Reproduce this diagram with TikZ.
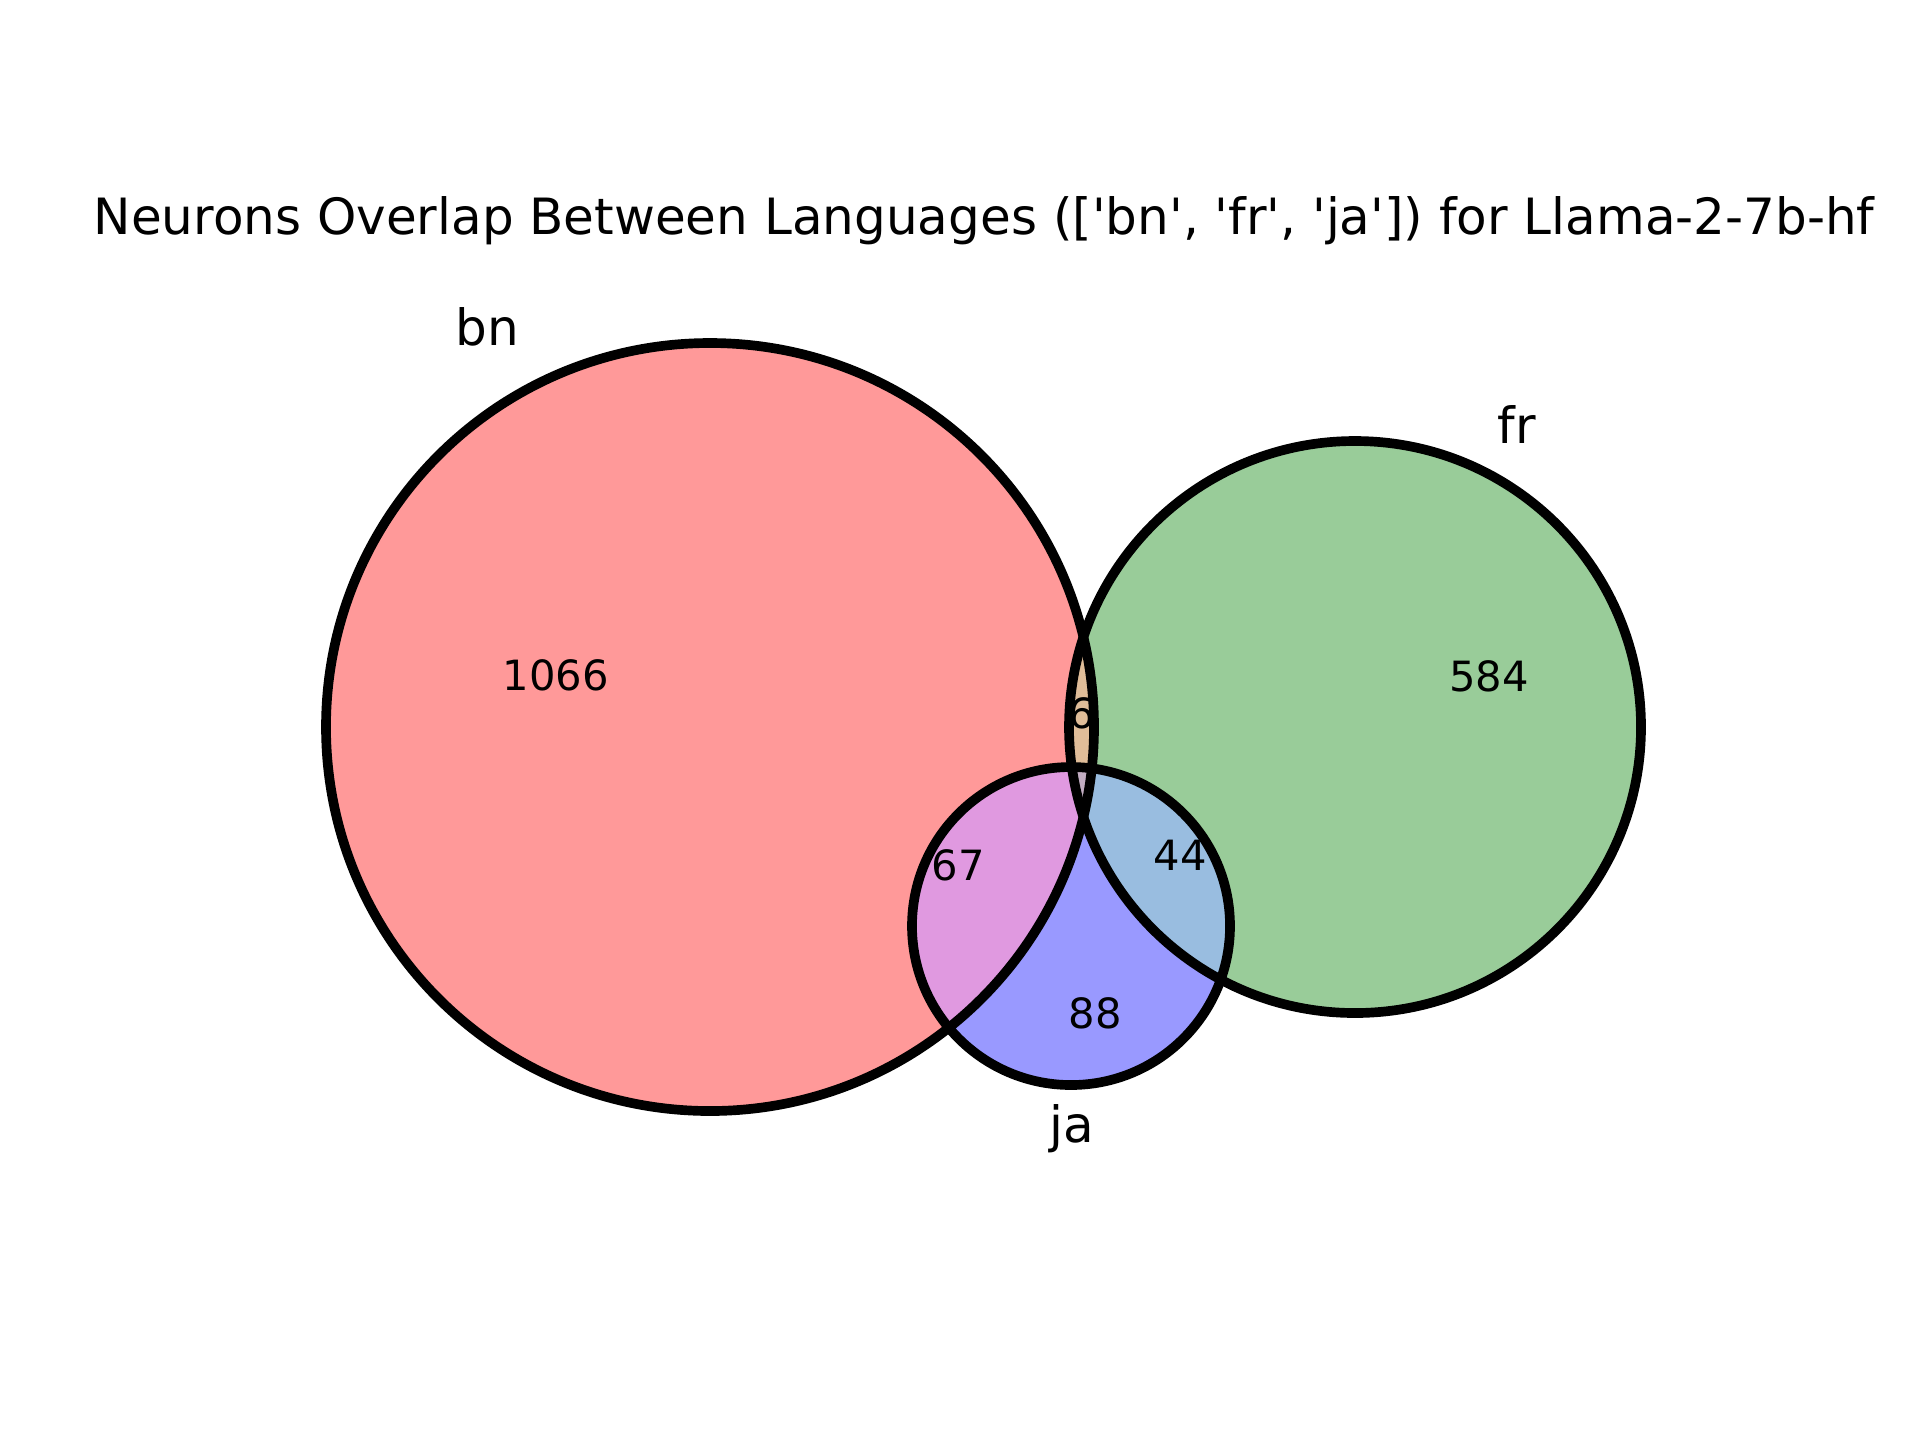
\documentclass[tikz,border=0pt]{standalone}
\usepackage{fontspec}
\setmainfont{DejaVu Sans}
\usepackage{tikz}
\usetikzlibrary{calc}
\definecolor{bnred}{RGB}{255,153,153}
\definecolor{frgreen}{RGB}{153,204,153}
\definecolor{jablue}{RGB}{153,153,255}
\definecolor{bnfr}{RGB}{224,189,153}
\definecolor{bnja}{RGB}{224,153,224}
\definecolor{frja}{RGB}{153,189,224}
\definecolor{allthree}{RGB}{194,173,194}

\begin{document}
\begin{tikzpicture}[x=0.3bp, y=-0.3bp,
      setlabel/.style={inner sep=0pt, anchor=base, font=\fontsize{15bp}{18bp}\selectfont},
      count/.style={inner sep=0pt, anchor=base, font=\fontsize{12.5bp}{15bp}\selectfont},
      rim/.style={draw=black, line width=2.9bp}
    ]
      \useasboundingbox (0,0) rectangle (1920,1440);
      \def\rbn{384}
      \def\rfr{286}
      \def\rja{159}
      \coordinate (bn) at (710, 727);
      \coordinate (fr) at (1355, 727);
      \coordinate (ja) at (1071, 926);

      % Title
      \node[setlabel] (title) at (984, 234) {Neurons Overlap Between Languages ([\textquotesingle bn\textquotesingle, \textquotesingle fr\textquotesingle, \textquotesingle ja\textquotesingle]) for Llama-2-7b-hf};

      % Regions
      \fill[bnred] (bn) circle (\rbn);
      \fill[frgreen] (fr) circle (\rfr);
      \fill[jablue] (ja) circle (\rja);
      \begin{scope}
        \clip (bn) circle (\rbn);
        \fill[bnfr] (fr) circle (\rfr);
        \fill[bnja] (ja) circle (\rja);
        \clip (fr) circle (\rfr);
        \fill[allthree] (ja) circle (\rja);
      \end{scope}
      \begin{scope}
        \clip (fr) circle (\rfr);
        \fill[frja] (ja) circle (\rja);
        \clip (bn) circle (\rbn);
        \fill[allthree] (ja) circle (\rja);
      \end{scope}

      % Counts
      \node[count] (n100) at (556, 690) {1066};
      \node[count] (n010) at (1489, 691) {584};
      \node[count] (n110) at (1082, 728) {6};
      \node[count] (n101) at (958, 880) {67};
      \node[count] (n011) at (1180, 870) {44};
      \node[count] (n001) at (1095, 1028) {88};

      % Set names
      \node[setlabel] (lbn) at (487, 345) {bn};
      \node[setlabel] (lfr) at (1517, 443) {fr};
      \node[setlabel] (lja) at (1072, 1142) {ja};

      % Outlines
      \draw[rim] (bn) circle (\rbn);
      \draw[rim] (fr) circle (\rfr);
      \draw[rim] (ja) circle (\rja);
    \end{tikzpicture}
\end{document}
